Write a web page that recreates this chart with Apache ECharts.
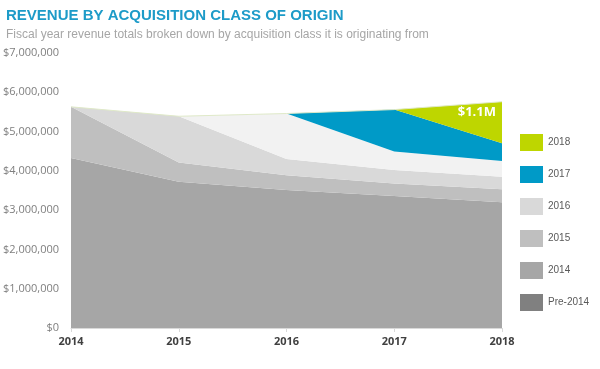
<!DOCTYPE html>
<html><head><meta charset="utf-8">
<script src="https://cdn.jsdelivr.net/npm/echarts@6/dist/echarts.min.js"></script>
<style>html,body{margin:0;padding:0;background:#fff}#c{width:600px;height:369px}</style>
</head><body><div id="c"></div>
<script>
var years = ['2014','2015','2016','2017','2018'];
var pre2014 = [4330000, 3720000, 3510000, 3360000, 3200000];
var class2014 = [1300000, 490000, 380000, 320000, 330000];
var class2015 = [0, 1180000, 410000, 340000, 320000];
var class2016 = [0, 0, 1160000, 470000, 400000];
var class2017 = [0, 0, 0, 1070000, 450000];
var class2018 = [0, 0, 0, 0, 1060000];
var seriesNames = ['Pre-2014','2014','2015','2016','2017','2018'];
var areaColors = ['#a6a6a6','#bfbfbf','#d9d9d9','#f2f2f2','#009ac7','#bed600'];
var legendOrder = ['2018','2017','2016','2015','2014','Pre-2014'];
var legendColors = ['#bed600','#009ac7','#d9d9d9','#bfbfbf','#a6a6a6','#808080'];
var topLabel = '$1.1M';

var dataSets = [pre2014, class2014, class2015, class2016, class2017, class2018];
var chart = echarts.init(document.getElementById('c'));
var series = dataSets.map(function(d, i){
  var isLast = i === dataSets.length - 1;
  return {
    name: seriesNames[i], type: 'line', stack: 'total',
    data: d.map(function(v, j){
      if (isLast && j === d.length - 1) {
        return {value: v, symbol: 'circle', symbolSize: 0,
          label: {show: true, position: 'left', offset: [0, 11], distance: 6,
            formatter: topLabel, color: '#fff', fontWeight: 'bold', fontSize: 13,
            fontFamily: 'Open Sans'}};
      }
      return {value: v, symbol: 'none'};
    }),
    showSymbol: true, silent: true,
    lineStyle: isLast ? {width: 1, color: '#dfe9c8'} : {width: 0},
    areaStyle: {color: areaColors[i], opacity: 1},
    itemStyle: {color: areaColors[i]},
    emphasis: {disabled: true}
  };
});
chart.setOption({
  animation: false,
  title: [{
    text: 'REVENUE BY ACQUISITION CLASS OF ORIGIN',
    subtext: 'Fiscal year revenue totals broken down by acquisition class it is originating from',
    left: 1, top: 3, itemGap: 6,
    textStyle: {color: '#1d9bc8', fontSize: 15, fontWeight: 'bold', fontFamily: 'Liberation Sans'},
    subtextStyle: {color: '#a6a6a6', fontSize: 12, fontFamily: 'Liberation Sans'}
  }],
  legend: {
    orient: 'vertical', left: 515, top: 129, itemWidth: 23, itemHeight: 17, itemGap: 15,
    icon: 'rect', selectedMode: false,
    textStyle: {color: '#595959', fontSize: 10, fontFamily: 'Liberation Sans'},
    data: legendOrder.map(function(n, i){ return {name: n, itemStyle: {color: legendColors[i]}}; })
  },
  grid: {left: 71, right: 98, top: 53, bottom: 41},
  xAxis: {
    type: 'category', data: years, boundaryGap: false,
    axisLine: {lineStyle: {color: '#d9d9d9'}},
    axisTick: {show: true, length: 4, lineStyle: {color: '#d9d9d9'}},
    axisLabel: {color: '#404040', fontWeight: 'bold', fontSize: 11, fontFamily: 'Open Sans', margin: 8}
  },
  yAxis: {
    type: 'value', min: 0, max: 7000000, interval: 1000000,
    axisLine: {show: false}, axisTick: {show: false}, splitLine: {show: false},
    axisLabel: {color: '#7f7f7f', fontSize: 11, fontFamily: 'Open Sans', margin: 12,
      formatter: function(v){ return '$' + v.toLocaleString('en-US'); }}
  },
  series: series
});
</script></body></html>
